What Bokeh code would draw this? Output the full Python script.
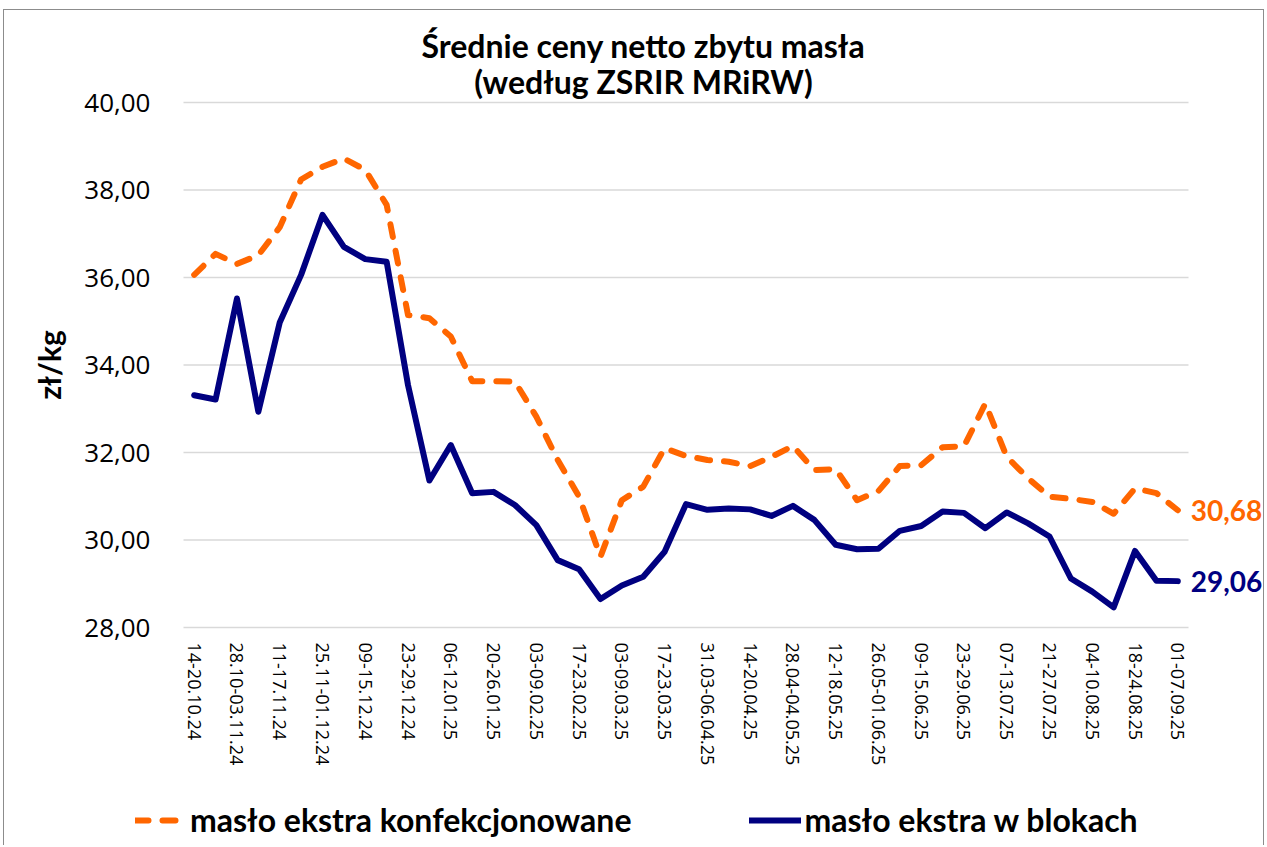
import math
from bokeh.plotting import figure
from bokeh.models import Range1d, FixedTicker, Legend, LegendItem, ColumnDataSource, Label
from bokeh.core.properties import value
from bokeh.embed import file_html
from bokeh.resources import INLINE

# ---------------- data ----------------
tick_labels = ["14-20.10.24", "28.10-03.11.24", "11-17.11.24", "25.11-01.12.24",
               "09-15.12.24", "23-29.12.24", "06-12.01.25", "20-26.01.25",
               "03-09.02.25", "17-23.02.25", "03-09.03.25", "17-23.03.25",
               "31.03-06.04.25", "14-20.04.25", "28.04-04.05.25", "12-18.05.25",
               "26.05-01.06.25", "09-15.06.25", "23-29.06.25", "07-13.07.25",
               "21-27.07.25", "04-10.08.25", "18-24.08.25", "01-07.09.25"]

konfekcjonowane = [36.06, 36.54, 36.31, 36.51, 37.15, 38.24, 38.53, 38.72, 38.46, 37.66,
                   35.14, 35.07, 34.65, 33.63, 33.63, 33.62, 32.82, 31.83, 30.99, 29.62,
                   30.91, 31.22, 32.10, 31.92, 31.83, 31.79, 31.69, 31.90, 32.15, 31.60,
                   31.62, 30.91, 31.12, 31.69, 31.71, 32.12, 32.14, 33.12, 31.90, 31.41,
                   30.99, 30.94, 30.87, 30.60, 31.18, 31.07, 30.68]

w_blokach = [33.31, 33.21, 35.52, 32.93, 34.97, 36.06, 37.43, 36.70, 36.42, 36.36,
             33.54, 31.36, 32.17, 31.07, 31.10, 30.80, 30.34, 29.54, 29.33, 28.65,
             28.96, 29.16, 29.73, 30.82, 30.69, 30.72, 30.70, 30.55, 30.78, 30.46,
             29.89, 29.79, 29.80, 30.21, 30.32, 30.65, 30.62, 30.27, 30.63, 30.38,
             30.08, 29.12, 28.82, 28.46, 29.75, 29.07, 29.06]

series_names = ["masło ekstra konfekcjonowane", "masło ekstra w blokach"]
y_ticks = [28, 30, 32, 34, 36, 38, 40]
title_lines = ["Średnie ceny netto zbytu masła", "(według ZSRIR MRiRW)"]
y_label = "zł/kg"

ORANGE = "#FF6600"
NAVY = "#000080"
GRID = "#d9d9d9"

n = len(w_blokach)

# ---------------- layout (pixels) ----------------
W, H = 1265, 845
PLOT_L, PLOT_T, PLOT_W, PLOT_H = 183, 102, 1005, 525   # the value area
cat_px = PLOT_W / n
val_px = PLOT_H / (max(y_ticks) - min(y_ticks))
# the frame covers the whole canvas so that every text can live inside it
x0 = -0.5 - PLOT_L / cat_px
x1 = -0.5 + (W - PLOT_L) / cat_px
y1 = max(y_ticks) + PLOT_T / val_px
y0 = max(y_ticks) - (H - PLOT_T) / val_px

src = ColumnDataSource(dict(x=list(range(n)), konf=konfekcjonowane, blok=w_blokach))

p = figure(width=W, height=H, x_range=Range1d(x0, x1), y_range=Range1d(y0, y1),
           output_backend="svg", toolbar_location=None,
           min_border=0, min_border_left=0, min_border_right=0,
           min_border_top=0, min_border_bottom=0,
           background_fill_alpha=0, border_fill_alpha=0,
           outline_line_color=None)
p.title.visible = False
p.styles = {
    "background": ("linear-gradient(#8c8c8c,#8c8c8c) 3px 9px / 1px 100% no-repeat, "
                   "linear-gradient(#8c8c8c,#8c8c8c) 3px 9px / 1261px 1px no-repeat, "
                   "linear-gradient(#8c8c8c,#8c8c8c) 1263px 9px / 1px 100% no-repeat, white"),
}

# horizontal grid lines over the category area
p.xgrid.visible = False
p.ygrid.visible = False
p.segment(x0=[-0.5] * len(y_ticks), x1=[n - 0.5] * len(y_ticks), y0=y_ticks, y1=y_ticks,
          line_color=GRID, line_width=1.5)

r1 = p.line("x", "konf", source=src, line_color=ORANGE, line_width=6,
            line_dash="13 14", line_cap="round", line_join="round")
r2 = p.line("x", "blok", source=src, line_color=NAVY, line_width=6,
            line_join="round", line_cap="round")

# end-value labels
p.text(x=[n - 1, n - 1], y=[konfekcjonowane[-1], w_blokach[-1]],
       text=[f"{konfekcjonowane[-1]:.2f}".replace(".", ","), f"{w_blokach[-1]:.2f}".replace(".", ",")],
       x_offset=13, text_align="left", text_baseline="middle",
       text_color=[ORANGE, NAVY], text_font=value("Lato"), text_font_style="bold",
       text_font_size="28px")

# x axis, fixed on the 28,00 line
xa = p.xaxis[0]
xa.fixed_location = min(y_ticks)
xa.ticker = FixedTicker(ticks=list(range(0, n, 2)))
xa.major_label_overrides = {i * 2: lab for i, lab in enumerate(tick_labels)}
xa.major_label_orientation = "vertical"
xa.axis_line_color = None
xa.major_tick_line_color = None
xa.minor_tick_line_color = None
xa.major_tick_out = 0
xa.minor_tick_out = 0
xa.major_label_standoff = 15
xa.major_label_text_font = "Open Sans"
xa.major_label_text_font_size = "18px"
xa.major_label_text_color = "#000000"

# y axis, fixed at the left edge of the category area
ya = p.yaxis[0]
ya.fixed_location = -0.5
ya.ticker = FixedTicker(ticks=y_ticks)
ya.major_label_overrides = {t: f"{t:.2f}".replace(".", ",") for t in y_ticks}
ya.axis_line_color = None
ya.major_tick_line_color = None
ya.minor_tick_line_color = None
ya.major_tick_out = 0
ya.minor_tick_out = 0
ya.major_label_standoff = 33
ya.major_label_text_font = "Open Sans"
ya.major_label_text_font_size = "26px"
ya.major_label_text_color = "#000000"

# y-axis title, centred on the value area
p.add_layout(Label(x=48, y=H - (PLOT_T + PLOT_H / 2), x_units="screen", y_units="screen",
                   text=y_label, angle=math.pi / 2, text_align="center", text_baseline="middle",
                   text_font="Lato", text_font_style="bold", text_font_size="30px",
                   text_color="#000000"))

# title: two centred lines (screen units, measured from the bottom-left)
for txt, ypix in ((title_lines[0], 45), (title_lines[1], 81)):
    p.add_layout(Label(x=643, y=H - ypix, x_units="screen", y_units="screen",
                       text=txt, text_align="center", text_baseline="middle",
                       text_font="Lato", text_font_style="bold", text_font_size="32px",
                       text_color="#000000"))

legend = Legend(items=[LegendItem(label=series_names[0], renderers=[r1]),
                       LegendItem(label=series_names[1], renderers=[r2])],
                orientation="horizontal", location=(135, 6),
                spacing=118, glyph_width=52, glyph_height=30, label_standoff=3,
                label_text_font="Lato", label_text_font_style="bold",
                label_text_font_size="32px", label_text_color="#000000",
                border_line_color=None, background_fill_alpha=0,
                padding=0, margin=0)
p.add_layout(legend, "center")

open("out.html", "w").write(file_html(p, INLINE))
